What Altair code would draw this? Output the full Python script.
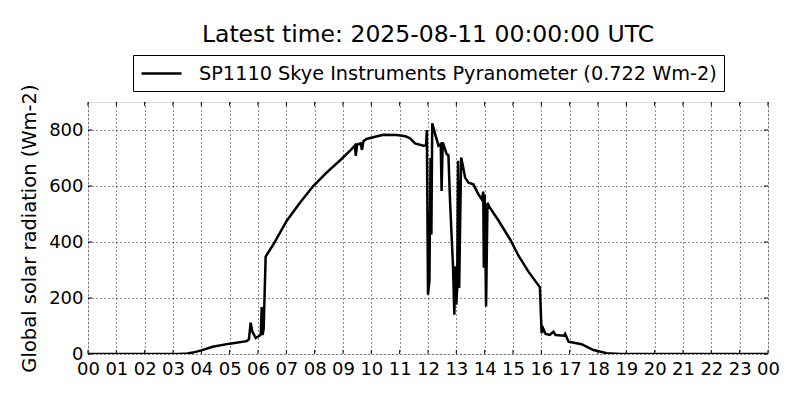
import json
import altair as alt
import pandas as pd

# ---- data ----
hours = [0.0, 3.2, 3.5, 3.7, 4.0, 4.4, 5.0, 5.6, 5.68, 5.74, 5.8, 5.92, 6.05, 6.1, 6.13, 6.16, 6.2,
         6.27, 6.54, 7.01, 7.48, 7.95, 8.42, 8.9, 9.25, 9.42, 9.45, 9.5, 9.62, 9.67, 9.72, 9.83,
         10.1, 10.42, 10.9, 11.2, 11.37, 11.54, 11.84, 11.93, 11.96, 12.0, 12.05, 12.09, 12.12,
         12.15, 12.25, 12.37, 12.45, 12.48, 12.52, 12.66, 12.72, 12.78, 12.88, 12.93, 12.97, 13.0,
         13.03, 13.06, 13.1, 13.17, 13.22, 13.31, 13.43, 13.6, 13.78, 13.9, 13.95, 13.97, 14.0,
         14.05, 14.1, 14.15, 14.5, 14.9, 15.2, 15.54, 15.95, 16.01, 16.06, 16.15, 16.3, 16.43,
         16.5, 16.8, 16.84, 16.96, 17.42, 17.84, 18.31, 18.8, 24.0]
radiation = [0, 0, 2, 5, 13, 26, 37, 46, 52, 112, 80, 57, 65, 70, 168, 68, 90,
             348, 391, 475, 540, 600, 648, 692, 726, 745, 708, 748, 752, 729, 760, 768,
             775, 783, 782, 778, 770, 752, 744, 745, 800, 212, 260, 700, 427,
             824, 786, 744, 750, 582, 756, 714, 710, 540, 320, 140, 313, 176,
             236, 690, 236, 702, 678, 630, 612, 606, 570, 552, 580, 308, 570,
             170, 540, 528, 475, 409, 350, 295, 238, 74, 92, 72, 68, 80,
             68, 65, 72, 44, 35, 14, 3, 0, 0]

series_name = "SP1110 Skye Instruments Pyranometer (0.722 Wm-2)"
title_text = "Latest time: 2025-08-11 00:00:00 UTC"
y_title = "Global solar radiation (Wm-2)"

x_ticks = list(range(0, 25))
x_tick_labels = ["00", "01", "02", "03", "04", "05", "06", "07", "08", "09", "10", "11",
                 "12", "13", "14", "15", "16", "17", "18", "19", "20", "21", "22", "23", "00"]
y_ticks = [0, 200, 400, 600, 800]

FONT = "DejaVu Sans"
W, H = 680, 252

df = pd.DataFrame({"hour": hours, "rad": radiation, "series": series_name})
xt = pd.DataFrame({"hour": x_ticks})
yt = pd.DataFrame({"rad": y_ticks})

x_scale = alt.Scale(domain=[0, 24], nice=False, zero=False)
y_scale = alt.Scale(domain=[0, 900], nice=False)

label_expr = json.dumps(x_tick_labels) + "[datum.value]"

line = alt.Chart(df).mark_line(strokeWidth=2.5, strokeJoin="miter", clip=True).encode(
    x=alt.X("hour:Q", scale=x_scale,
            axis=alt.Axis(values=x_ticks, tickCount=len(x_ticks), labelExpr=label_expr,
                          title=None, grid=True,
                          gridColor="black", gridDash=[1, 3], gridWidth=1, gridOpacity=0.9,
                          ticks=False, domain=False, labelFont=FONT, labelFontSize=18,
                          labelColor="black", labelPadding=6, labelFlush=False,
                          labelOverlap=False)),
    y=alt.Y("rad:Q", scale=y_scale,
            axis=alt.Axis(values=y_ticks, tickCount=len(y_ticks), title=y_title, grid=True,
                          gridColor="black", gridDash=[1, 3], gridWidth=1, gridOpacity=0.9,
                          ticks=False, domain=False, labelFont=FONT, labelFontSize=18,
                          labelColor="black", labelPadding=5, titleFont=FONT,
                          titleFontSize=19.5, titleFontWeight="normal", titleColor="black",
                          titlePadding=9, labelFlush=False)),
    color=alt.Color("series:N", scale=alt.Scale(domain=[series_name], range=["black"]),
                    legend=alt.Legend(title=None, orient="none", legendX=45, legendY=-47,
                                      fillColor="white", strokeColor="black", padding=7,
                                      symbolType="M-1,0H3", symbolSize=400,
                                      symbolStrokeWidth=2.5, symbolStrokeColor="black",
                                      labelFont=FONT, labelFontSize=19.3,
                                      labelColor="black", labelOffset=36, labelLimit=800,
                                      cornerRadius=0)),
)

tick_len = 4
xticks_bottom = alt.Chart(xt).mark_rule(color="black", strokeWidth=1).encode(
    x=alt.X("hour:Q", scale=x_scale), y=alt.value(H), y2=alt.value(H - tick_len))
xticks_top = alt.Chart(xt).mark_rule(color="black", strokeWidth=1).encode(
    x=alt.X("hour:Q", scale=x_scale), y=alt.value(0), y2=alt.value(tick_len))
yticks_left = alt.Chart(yt).mark_rule(color="black", strokeWidth=1).encode(
    y=alt.Y("rad:Q", scale=y_scale), x=alt.value(0), x2=alt.value(tick_len))
yticks_right = alt.Chart(yt).mark_rule(color="black", strokeWidth=1).encode(
    y=alt.Y("rad:Q", scale=y_scale), x=alt.value(W), x2=alt.value(W - tick_len))

chart = alt.layer(xticks_bottom, xticks_top, yticks_left, yticks_right, line).properties(
    width=W, height=H,
    title=alt.TitleParams(title_text, font=FONT, fontSize=23.5, fontWeight="normal",
                          color="black", anchor="middle", offset=8),
    padding={"left": 80, "top": 94, "right": 24, "bottom": 38},
    autosize="none",
).configure_view(stroke="black", strokeWidth=1.2).configure(background="white")

chart.save("out.html", embed_options={"renderer": "svg", "actions": False})
